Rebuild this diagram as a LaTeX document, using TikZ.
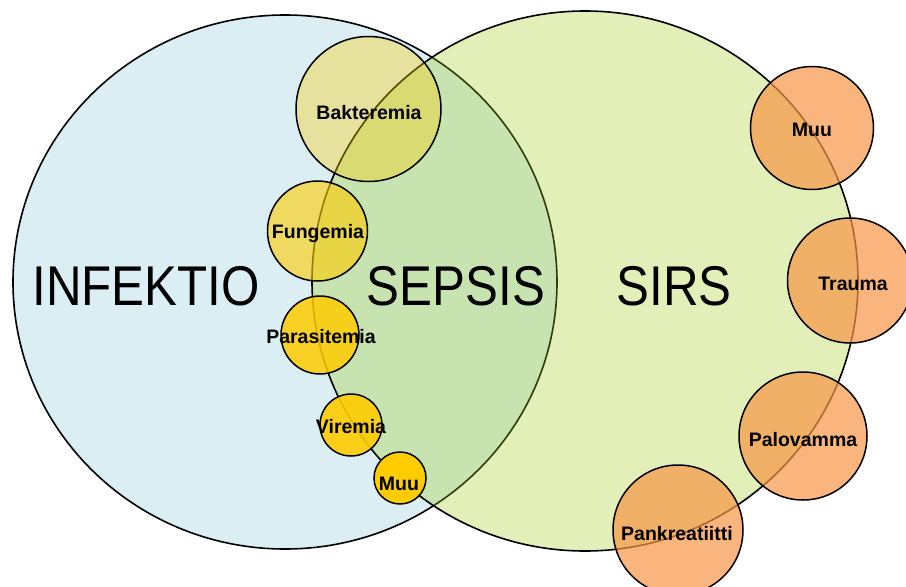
\documentclass[tikz,border=0pt]{standalone}
\usepackage{fontspec}
\setmainfont{Liberation Sans}
\usepackage{graphicx}
\definecolor{infblue}{RGB}{218,238,243}
\definecolor{sirsgreen}{RGB}{158,202,22}
\definecolor{gold}{RGB}{255,204,0}
\definecolor{orangeC}{RGB}{247,150,70}
\begin{document}
\begin{tikzpicture}[x=1pt,y=-1pt,
  bigline/.style={draw=black, line width=1.6pt},
  smallc/.style={circle, draw=black, line width=1.5pt, inner sep=0pt},
  yc/.style={smallc, fill=gold},
  oc/.style={smallc, fill=orangeC, fill opacity=0.7},
  lab/.style={anchor=base, inner sep=0pt, font=\bfseries\fontsize{19.5}{22}\selectfont},
  biglab/.style={anchor=base, inner sep=0pt, font=\fontsize{56}{60}\selectfont}]
\useasboundingbox (0,0) rectangle (906,587);
% big circles
\path[bigline, fill=infblue] (285,282) ellipse [x radius=272pt, y radius=267pt];
\path[fill=sirsgreen, fill opacity=0.3] (585,281) ellipse [x radius=273pt, y radius=270pt];
\path[bigline] (585,281) ellipse [x radius=273pt, y radius=270pt];
% yellow circles
\node[yc, fill opacity=0.35, minimum size=145pt] (bak) at (368.5,109) {};
\node[yc, fill opacity=0.6, minimum size=100pt] (fun) at (317.5,231) {};
\node[yc, fill opacity=0.85, minimum size=78pt] (par) at (320,335) {};
\node[yc, fill opacity=0.9, minimum size=62pt] (vir) at (351,425) {};
\node[yc, fill opacity=1, minimum size=52pt] (muuy) at (400,478) {};
% orange circles
\node[oc, minimum size=123pt] (muuo) at (812,128) {};
\node[oc, minimum size=125pt] (tra) at (850,280.5) {};
\node[oc, minimum size=128pt] (pal) at (803,436) {};
\node[oc, minimum size=130pt] (pan) at (678,530) {};
% big labels
\node[biglab] (tinf) at (146,305) {\scalebox{0.88}[1]{INFEKTIO}};
\node[biglab] (tsep) at (456,305) {\scalebox{0.88}[1]{SEPSIS}};
\node[biglab] (tsir) at (674,305) {\scalebox{0.88}[1]{SIRS}};
% small labels
\node[lab] (lbak) at (369,119) {Bakteremia};
\node[lab] (lfun) at (318,238) {Fungemia};
\node[lab] (lpar) at (321,343) {Parasitemia};
\node[lab] (lvir) at (351,433) {Viremia};
\node[lab] (lmuuy) at (399,490) {Muu};
\node[lab] (lmuuo) at (812,136) {Muu};
\node[lab] (ltra) at (853,290) {Trauma};
\node[lab] (lpal) at (803,446) {Palovamma};
\node[lab] (lpan) at (677,540) {Pankreatiitti};
\end{tikzpicture}
\end{document}
